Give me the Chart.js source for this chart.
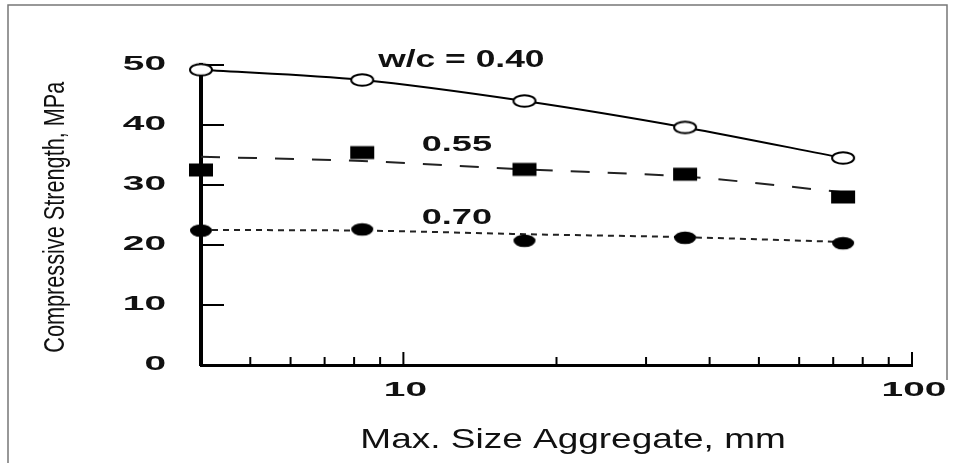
<!DOCTYPE html>
<html><head><meta charset="utf-8">
<script src="https://cdn.jsdelivr.net/npm/chart.js@4.4.1/dist/chart.umd.min.js"></script>
<style>html,body{margin:0;padding:0;background:#fff;}#wrap{width:957px;height:463px;}</style>
</head><body><div id="wrap"><canvas id="c" width="957" height="463"></canvas></div>
<script>
// ---- data ----
const sizes = [4, 8.3, 17.3, 35.8, 73.2];          // max aggregate size, mm
const wc040 = [49.2, 47.5, 44.0, 39.6, 34.5];      // w/c = 0.40
const wc055 = [32.5, 35.4, 32.6, 31.8, 28.0];      // w/c = 0.55
const wc070 = [22.4, 22.6, 20.7, 21.2, 20.3];      // w/c = 0.70
const fit055 = [34.7, 34.0, 32.6, 31.4, 28.8];     // fitted dashed curve 0.55
const fit070 = [22.5, 22.4, 21.8, 21.3, 20.5];     // fitted dotted curve 0.70
const seriesLabels = ['w/c = 0.40', '0.55', '0.70'];
const yTicks = [0, 10, 20, 30, 40, 50];
const xMajorTicks = [10, 100];
const xMinorTicks = [5, 6, 7, 8, 9, 20, 30, 40, 50, 60, 70, 80, 90];
const xTitle = 'Max. Size Aggregate, mm';
const yTitle = 'Compressive Strength, MPa';

const pts = (ys) => sizes.map((x, i) => ({x: x, y: ys[i]}));

// ---- markers (stretched shapes) ----
function makeMarker(kind) {
  const c = document.createElement('canvas');
  c.width = 28; c.height = 18;
  const g = c.getContext('2d');
  g.beginPath();
  if (kind === 'open') {
    g.ellipse(14, 9, 11, 5.8, 0, 0, Math.PI * 2);
    g.fillStyle = '#fff'; g.fill();
    g.lineWidth = 2; g.strokeStyle = '#000'; g.stroke();
  } else if (kind === 'dot') {
    g.ellipse(14, 9, 11, 6.3, 0, 0, Math.PI * 2);
    g.fillStyle = '#000'; g.fill();
  } else {
    g.rect(2, 2.5, 24, 13);
    g.fillStyle = '#000'; g.fill();
  }
  return c;
}
const mOpen = makeMarker('open'), mDot = makeMarker('dot'), mSq = makeMarker('sq');

const FONT = '"Liberation Sans", Arial, sans-serif';

function drawFit(ctx, text, font, inkLeft, inkRight, baseline) {
  ctx.save();
  ctx.font = font; ctx.textAlign = 'left'; ctx.textBaseline = 'alphabetic';
  const m = ctx.measureText(text);
  const inkW = m.actualBoundingBoxRight + m.actualBoundingBoxLeft;
  const sx = (inkRight - inkLeft) / inkW;
  ctx.translate(inkLeft + m.actualBoundingBoxLeft * sx, baseline);
  ctx.scale(sx, 1);
  ctx.fillText(text, 0, 0);
  ctx.restore();
}

const axisDecor = {
  id: 'axisDecor',
  beforeDatasetsDraw(chart) {
    const ctx = chart.ctx, xs = chart.scales.x, ys = chart.scales.y;
    const a = chart.chartArea;
    ctx.save();
    ctx.strokeStyle = '#000'; ctx.lineWidth = 2;
    yTicks.forEach(v => {
      if (v === 0) return;
      const y = Math.round(ys.getPixelForValue(v));
      ctx.beginPath(); ctx.moveTo(a.left, y); ctx.lineTo(a.left + 23, y); ctx.stroke();
    });
    xMinorTicks.forEach(v => {
      const x = xs.getPixelForValue(v);
      ctx.beginPath(); ctx.moveTo(x, a.bottom); ctx.lineTo(x, a.bottom - 8); ctx.stroke();
    });
    xMajorTicks.forEach(v => {
      const x = xs.getPixelForValue(v);
      ctx.beginPath(); ctx.moveTo(x, a.bottom); ctx.lineTo(x, a.bottom - 13); ctx.stroke();
    });
    ctx.restore();
  },
  afterDraw(chart) {
    const ctx = chart.ctx, xs = chart.scales.x, ys = chart.scales.y;
    const a = chart.chartArea;
    ctx.save();
    ctx.fillStyle = '#111';
    // frame
    ctx.strokeStyle = '#777'; ctx.lineWidth = 1.5;
    ctx.beginPath();
    ctx.moveTo(8, 463); ctx.lineTo(8, 5); ctx.lineTo(947, 5); ctx.lineTo(947, 380);
    ctx.stroke();
    // y tick labels
    const tickFont = 'bold 21px ' + FONT;
    const sxT = 1.85;
    ctx.font = tickFont; ctx.textBaseline = 'alphabetic';
    yTicks.forEach(v => {
      const y = ys.getPixelForValue(v) + 4.5;
      ctx.save(); ctx.translate(166, y); ctx.scale(sxT, 1);
      ctx.textAlign = 'right'; ctx.fillText(String(v), 0, 0); ctx.restore();
    });
    // x tick labels
    xMajorTicks.forEach(v => {
      const x = xs.getPixelForValue(v);
      ctx.save(); ctx.translate(x + 2, a.bottom + 31); ctx.scale(sxT, 1);
      ctx.textAlign = 'center'; ctx.fillText(String(v), 0, 0); ctx.restore();
    });
    // x title
    drawFit(ctx, xTitle, '28px ' + FONT, 363, 784, 447.5);
    // y title (rotated)
    ctx.save();
    ctx.font = '29px ' + FONT; ctx.textAlign = 'left'; ctx.textBaseline = 'alphabetic';
    const m = ctx.measureText(yTitle);
    const inkW = m.actualBoundingBoxRight + m.actualBoundingBoxLeft;
    const sy = (352 - 81) / inkW;
    ctx.translate(64, 352);
    ctx.rotate(-Math.PI / 2);
    ctx.scale(sy, 1);
    ctx.fillText(yTitle, m.actualBoundingBoxLeft, 0);
    ctx.restore();
    // series labels
    drawFit(ctx, seriesLabels[0], 'bold 23px ' + FONT, 376.7, 543.3, 67);
    drawFit(ctx, seriesLabels[1], 'bold 22px ' + FONT, 421.7, 491.7, 151);
    drawFit(ctx, seriesLabels[2], 'bold 22px ' + FONT, 421.7, 491.7, 223.5);
    ctx.restore();
  }
};

new Chart(document.getElementById('c'), {
  type: 'scatter',
  data: {
    datasets: [
      { label: seriesLabels[1] + ' points', data: pts(wc055), showLine: false,
        pointStyle: mSq, pointRadius: 10, clip: false },
      { label: seriesLabels[2] + ' points', data: pts(wc070), showLine: false,
        pointStyle: mDot, pointRadius: 10, clip: false },
      { label: seriesLabels[0], data: pts(wc040), showLine: true,
        borderColor: '#000', borderWidth: 2, pointStyle: mOpen, pointRadius: 10,
        cubicInterpolationMode: 'monotone', clip: false },
      { label: seriesLabels[1] + ' fit', data: pts(fit055), showLine: true,
        borderColor: '#222', borderWidth: 2, borderDash: [19, 18], pointRadius: 0,
        cubicInterpolationMode: 'monotone', clip: false },
      { label: seriesLabels[2] + ' fit', data: pts(fit070), showLine: true,
        borderColor: '#222', borderWidth: 2, borderDash: [6, 5], pointRadius: 0,
        cubicInterpolationMode: 'monotone', clip: false }
    ]
  },
  options: {
    responsive: false,
    devicePixelRatio: 1,
    animation: false,
    layout: { padding: { left: 201, right: 45, top: 65, bottom: 98 } },
    plugins: { legend: { display: false }, tooltip: { enabled: false }, title: { display: false } },
    scales: {
      x: { type: 'logarithmic', min: 4, max: 100, position: 'bottom',
           grid: { display: false, drawTicks: false },
           border: { display: true, color: '#000', width: 3 },
           ticks: { display: false } },
      y: { type: 'linear', min: 0, max: 50,
           grid: { display: false, drawTicks: false },
           border: { display: true, color: '#000', width: 4 },
           ticks: { display: false } }
    }
  },
  plugins: [axisDecor]
});
</script>
</body></html>
